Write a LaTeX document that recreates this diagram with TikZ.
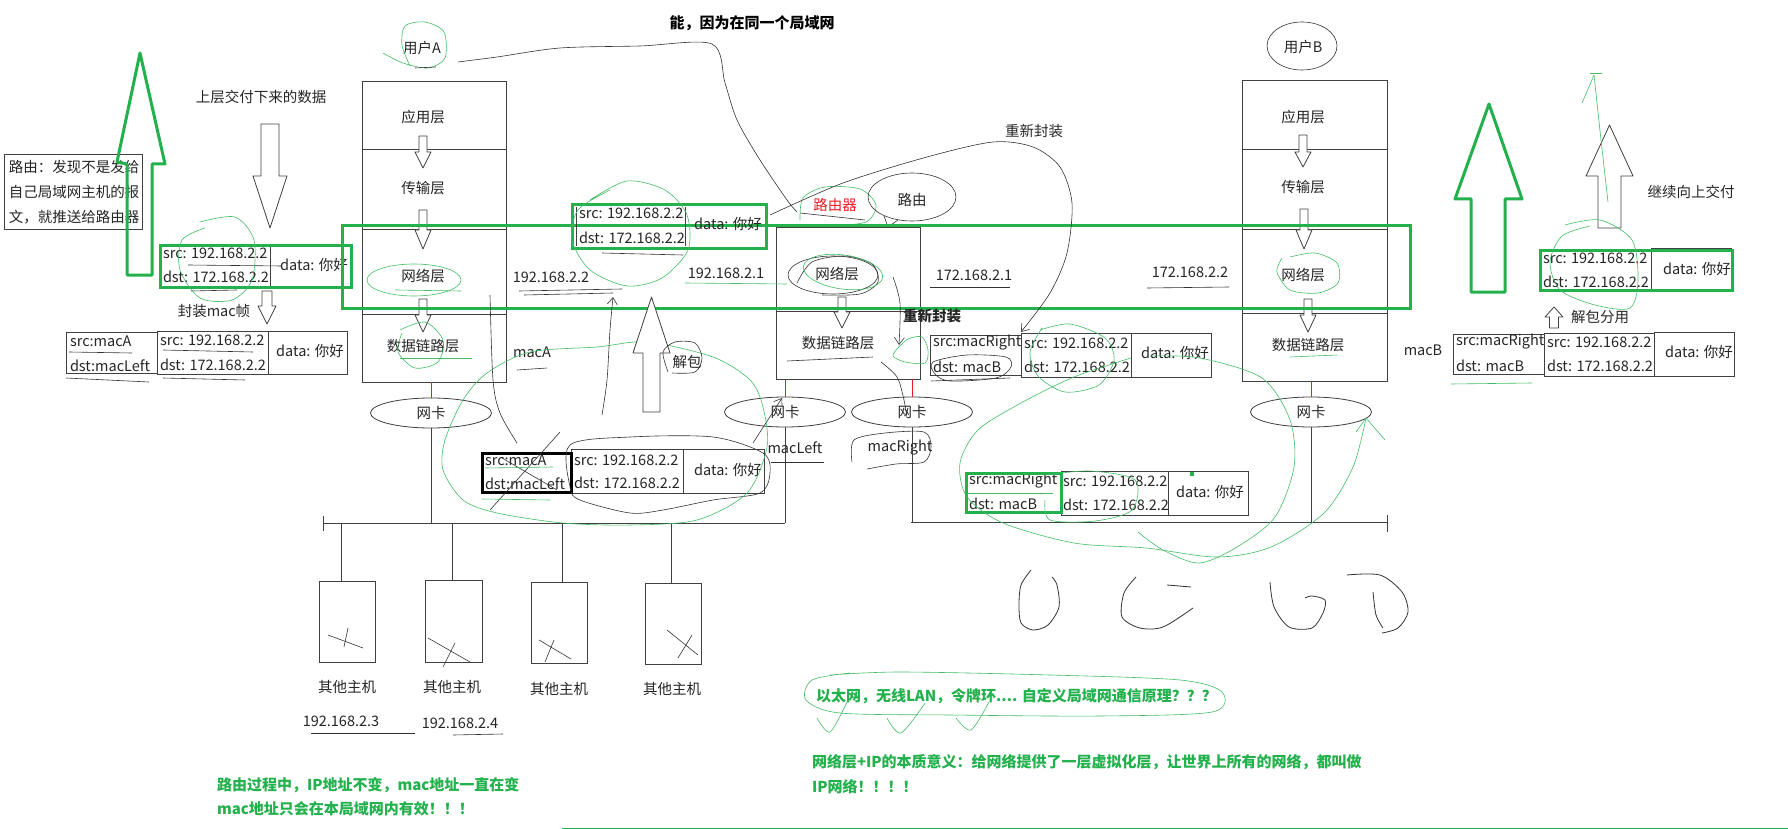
\documentclass[tikz,border=0pt]{standalone}
\usepackage{fontspec}
\setmainfont{Noto Sans CJK SC}
\usetikzlibrary{shapes.geometric,arrows.meta}
\definecolor{pgreen}{RGB}{34,177,76}
\definecolor{pred}{RGB}{237,28,36}
\newcommand{\harrow}[6]{\draw[hollow] ({#1-#5},#2) -- ({#1-#5},#3) -- ({#1-#6},#3) -- (#1,#4) -- ({#1+#6},#3) -- ({#1+#5},#3) -- ({#1+#5},#2) -- cycle;}
\begin{document}
\begin{tikzpicture}[x=1pt,y=-1pt,
 every node/.style={inner sep=0pt, outer sep=0pt, font=\fontsize{14.5}{17}\selectfont, text=black!85},
 cell/.style={draw=black!75, line width=0.8pt},
 thickcell/.style={draw=black, line width=3pt},
 gframe/.style={draw=pgreen, line width=3pt},
 hollow/.style={draw=black!75, line width=0.8pt, fill=white, line join=round},
 gs/.style={draw=pgreen!85, line width=0.6pt},
 bs/.style={draw=black!80, line width=0.6pt},
 nic/.style={draw=black!75, line width=0.8pt, ellipse, minimum width=121pt, minimum height=30pt},
 gtxt/.style={anchor=west, text=pgreen, font=\bfseries\fontsize{15}{18}\selectfont},
 barb/.style={-{Straight Barb[length=7pt,width=10pt]}},
]
\fill[white] (0,0) rectangle (1788,829);
\useasboundingbox (0,0) rectangle (1788,829);

% title
\node[font=\bfseries\fontsize{15}{18}\selectfont, text=black] (title) at (752,23) {能，因为在同一个局域网};

% routing note
\draw[cell] (4,154) rectangle (142,229);
\node[anchor=west] (note1) at (9,167) {路由：发现不是发给};
\node[anchor=west] (note2) at (9,192) {自己局域网主机的报};
\node[anchor=west] (note3) at (9,217) {文，就推送给路由器};
\draw[gframe, line join=round] (140,53) -- (165,164) -- (152,164) -- (152,275) -- (127,275) -- (127,164) -- (117,162) -- cycle;

% data from upper layer
\node (upper) at (261,97) {上层交付下来的数据};
\harrow{270}{124}{176}{228}{9}{17}

% packet 1
\draw[cell] (160,244) rectangle (351,288);
\draw[cell] (270,244) -- (270,288);
\node[anchor=west] (p1s) at (163,253) {src: 192.168.2.2};
\node[anchor=west] (p1d) at (163,277) {dst: 172.168.2.2};
\node (p1a) at (314,265) {data: 你好};
\draw[gframe] (160,245) rectangle (351,287);
\draw[bs] (188,265) -- (282,266);
\draw[bs] (191,291) -- (237,290);
\draw[gs] plot[smooth] coordinates {(200,222) (235,217) (254,240) (252,280) (232,300) (200,298) (180,270) (182,240) (205,228)};

% encapsulate mac frame
\harrow{267}{291}{306}{324}{5}{9}
\node (fz) at (214,311) {封装mac帧};
\draw[cell] (66,332) rectangle (157,373);
\draw[cell] (157,331) rectangle (268,374);
\draw[cell] (268,331) rectangle (347,374);
\node[anchor=west] (f1sm) at (70,341) {src:macA};
\node[anchor=west] (f1dm) at (70,366) {dst:macLeft};
\node[anchor=west] (f1s) at (160,340) {src: 192.168.2.2};
\node[anchor=west] (f1d) at (160,365) {dst: 172.168.2.2};
\node (f1a) at (310,351) {data: 你好};
\draw[bs] (69,352) -- (132,353);
\draw[bs] (66,378) -- (149,382);
\draw[bs] (163,350) -- (253,352);
\draw[bs] (163,378) -- (245,380);

% host A stack
\node (userA) at (422,48) {用户A};
\draw[gs] plot[smooth] coordinates {(383,53) (403,63) (428,68) (445,58) (444,32) (425,22) (405,26) (402,45) (410,66)};
\draw[bs] (415,68) -- (436,67);
\draw[cell] (362,81) rectangle (506,382);
\draw[cell] (362,149) -- (506,149);
\draw[cell] (362,229) -- (506,229);
\draw[cell] (362,314) -- (506,314);
\node (aApp) at (423,117) {应用层};
\node (aTra) at (423,188) {传输层};
\node (aNet) at (423,276) {网络层};
\node (aDl) at (423,346) {数据链路层};
\harrow{423}{136}{152}{168}{4}{8}
\harrow{423}{210}{230}{249}{4}{8}
\harrow{423}{299}{315}{332}{4}{8}
\draw[gs] (414,280) ellipse [x radius=47, y radius=16];
\draw[gs] (395,290) -- (461,291);
\draw[gs] plot[smooth] coordinates {(400,330) (425,322) (443,340) (438,362) (415,368) (398,352) (402,333)};
\draw[gs] (400,358) -- (472,358);

% router
\node[text=pred] (rtr) at (835,205) {路由器};
\draw[gs] plot[smooth] coordinates {(800,220) (803,198) (825,187) (860,189) (876,205) (866,222) (830,226)};
\draw[bs] (800,213) -- (865,220);
\node (route) at (912,200) {路由};
\draw[bs] (912,197) ellipse [x radius=44, y radius=24];
\draw[bs] (884,216) -- (888,227) -- (898,220);
\draw[cell] (776,227) rectangle (920,379);
\draw[cell] (776,311) -- (920,311);
\node (rNet) at (837,274) {网络层};
\node (rDl) at (838,343) {数据链路层};
\harrow{842}{297}{312}{328}{4}{8}
\draw[bs] (833,275) ellipse [x radius=45, y radius=19];
\draw[bs] plot[smooth] coordinates {(797,283) (812,262) (845,256) (872,264) (878,282) (860,294) (822,295)};
\draw[gs, rotate around={-8:(843,272)}] (843,272) ellipse [x radius=40, y radius=17];
\draw[bs] (787,361) -- (873,357);
\node (ip1) at (551,277) {192.168.2.2};
\draw[bs] (519,291) -- (622,289);
\draw[bs] (524,295) -- (613,293);
\node (ip2) at (726,273) {192.168.2.1};
\draw[gs] (685,283) -- (787,284);
\node (ip3) at (974,275) {172.168.2.1};
\draw[bs] (930,287) -- (1010,287);
\node (ip4) at (1190,272) {172.168.2.2};
\draw[bs] (1147,288) -- (1229,287);
\node (macA) at (532,352) {macA};
\draw[bs] (517,370) -- (547,368);

% host B stack
\node (userB) at (1303,47) {用户B};
\draw[bs] (1302,46) ellipse [x radius=35, y radius=24];
\draw[cell] (1242,80) rectangle (1387,381);
\draw[cell] (1242,149) -- (1387,149);
\draw[cell] (1242,229) -- (1387,229);
\draw[cell] (1242,313) -- (1387,313);
\node (bApp) at (1303,117) {应用层};
\node (bTra) at (1303,187) {传输层};
\node (bNet) at (1303,275) {网络层};
\node (bDl) at (1308,345) {数据链路层};
\harrow{1303}{135}{152}{167}{4}{8}
\harrow{1304}{209}{230}{249}{4}{8}
\harrow{1308}{299}{315}{332}{4}{8}
\draw[gs] plot[smooth] coordinates {(1290,257) (1315,253) (1337,263) (1338,283) (1318,293) (1290,290) (1277,272) (1282,258)};
\draw[gs] (1290,357) -- (1337,355);
\node (macB) at (1423,350) {macB};

% long green rectangle (network layer)
\draw[gframe] (342,226) rectangle (1410,308);

% packet 2
\draw[cell] (576,207) -- (576,246);
\draw[cell] (685,207) -- (685,246);
\node[anchor=west] (p2s) at (579,213) {src: 192.168.2.2};
\node[anchor=west] (p2d) at (579,238) {dst: 172.168.2.2};
\node (p2a) at (728,224) {data: 你好};
\draw[gframe] (572,205) rectangle (766,248);
\draw[bs] (602,253) -- (683,255);
\draw[gs] plot[smooth] coordinates {(590,200) (627,181) (665,190) (687,215) (688,250) (662,278) (627,286) (590,270) (572,240) (578,210) (610,190)};

% black curve from user A to router
\draw[bs] plot[smooth, tension=0.5] coordinates {(458,62) (497,57) (560,48) (640,46) (712,44) (725,83) (737,120) (760,160) (787,200) (797,212)};
% router re-encapsulation curve
\node (renew) at (1034,131) {重新封装};
\draw[bs, barb] plot[smooth] coordinates {(770,215) (843,183) (927,157) (993,142) (1033,147) (1060,167) (1072,203) (1067,253) (1050,293) (1021,332)};
\node[font=\bfseries\fontsize{14.5}{17}\selectfont, text=black!85] (renew2) at (932,316) {重新封装};
\draw[bs, barb] plot[smooth] coordinates {(893,277) (900,303) (899,345)};
\draw[gs] plot[smooth] coordinates {(897,349) (908,339) (922,337) (928,350) (925,363) (905,362) (893,356) (898,348)};
\draw[bs] plot[smooth] coordinates {(881,362) (897,377) (904,400) (907,418)};

% router frame
\draw[cell] (930,335) rectangle (1021,375);
\draw[cell] (1021,333) rectangle (1131,377);
\draw[cell] (1131,333) rectangle (1211,377);
\node[anchor=west] (rfsm) at (933,343) {src:macRight};
\node[anchor=west] (rfdm) at (933,367) {dst: macB};
\node[anchor=west] (rfs) at (1024,343) {src: 192.168.2.2};
\node[anchor=west] (rfd) at (1024,367) {dst: 172.168.2.2};
\node (rfa) at (1175,353) {data: 你好};
\draw[bs] plot[smooth cycle] coordinates {(933,362) (967,355) (1006,357) (1011,367) (996,378) (950,381) (935,374)};
\draw[bs] (931,381) -- (1010,378);
\draw[gs] plot[smooth] coordinates {(1040,330) (1070,324) (1105,338) (1114,360) (1099,385) (1065,392) (1038,376) (1030,352) (1042,328)};

% NICs
\node[nic] (nicA) at (431,413) {网卡};
\node[nic] (nicRL) at (785,412) {网卡};
\node[nic] (nicRR) at (912,412) {网卡};
\node[nic] (nicB) at (1311,412) {网卡};
\draw[pred, line width=0.6pt] (nicA.north) -- ++(0,-16);
\draw[pred, line width=0.6pt] (nicRL.north) -- ++(0,-18);
\draw[pred, line width=0.6pt] (nicRR.north) -- ++(0,-18);
\draw[pred, line width=0.6pt] (nicB.north) -- ++(0,-16);
\node (macL) at (795,448) {macLeft};
\draw[bs] (771,462) -- (824,462);
\node (macR) at (900,448) {macRight};
\draw[bs] plot[smooth] coordinates {(852,462) (854,440) (885,433) (924,432) (931,447) (924,462) (896,464) (867,469)};

% bus A
\coordinate (busAL) at (323,523);
\coordinate (busAR) at (785,523);
\draw[cell] (busAL) -- (busAR);
\draw[cell] (323,516) -- (323,531);
\draw[cell] (nicA.south) -- (nicA.south |- busAL);
\draw[cell] (nicRL.south) -- (busAR);
\draw[cell] (341,523) -- (341,581);
\draw[cell] (452,523) -- (452,580);
\draw[cell] (562,523) -- (562,582);
\draw[cell] (671,523) -- (671,583);
\draw[cell] (319,581) rectangle (375,662);
\draw[cell] (425,580) rectangle (482,662);
\draw[cell] (531,582) rectangle (587,663);
\draw[cell] (645,583) rectangle (701,664);
\draw[bs] (328,635) -- (363,648); \draw[bs] (348,628) -- (344,647);
\draw[bs] (428,638) -- (470,662); \draw[bs] (455,643) -- (443,667);
\draw[bs] (539,640) -- (571,659); \draw[bs] (554,640) -- (545,662);
\draw[bs] (667,630) -- (698,655); \draw[bs] (692,635) -- (678,658);
\node (o1) at (347,687) {其他主机};
\node (o2) at (452,687) {其他主机};
\node (o3) at (559,689) {其他主机};
\node (o4) at (672,689) {其他主机};
\node (o1ip) at (341,721) {192.168.2.3};
\node (o2ip) at (460,723) {192.168.2.4};
\draw[bs] (311,733) -- (415,733);
\draw[bs] (453,735) -- (503,734);

% frame on bus A
\draw[cell] (571,449) rectangle (683,493);
\draw[cell] (683,449) rectangle (764,493);
\draw[thickcell] (482,453) rectangle (571,492);
\node[anchor=west] (bafsm) at (485,460) {src:macA};
\node[anchor=west] (bafdm) at (485,484) {dst:macLeft};
\node[anchor=west] (bafs) at (574,460) {src: 192.168.2.2};
\node[anchor=west] (bafd) at (574,483) {dst: 172.168.2.2};
\node (bafa) at (728,470) {data: 你好};
\draw[bs] (560,432) -- (490,510);
\draw[bs] (502,458) -- (557,490);
\draw[gs] (485,468) -- (553,467);
\draw[gs] (482,499) -- (550,500);
\draw[bs] plot[smooth cycle] coordinates {(570,445) (630,437) (713,437) (763,453) (770,473) (760,493) (713,500) (663,510) (630,513) (580,500) (570,487)};
\draw[gs] plot[smooth cycle] coordinates {(647,342) (597,347) (530,352) (487,373) (463,400) (445,440) (443,470) (463,500) (497,513) (563,523) (630,525) (697,520) (747,493) (767,447) (763,407) (750,380) (713,357)};
\draw[bs, barb] (753,443) -- (782,398);
\draw[bs] plot[smooth] coordinates {(490,295) (493,380) (500,413) (517,443)};
\draw[bs, barb] plot[smooth] coordinates {(602,415) (607,380) (610,330) (613,297)};
\harrow{651.5}{412}{353}{297}{8.5}{18.5}
\node (unpack) at (687,362) {解包};
\draw[bs] plot[smooth] coordinates {(668,372) (663,352) (675,342) (695,343) (702,358) (695,372) (672,373)};

% bus B
\coordinate (busBL) at (911,522);
\coordinate (busBR) at (1387,522);
\draw[cell] (busBL) -- (busBR);
\draw[cell] (1387,515) -- (1387,532);
\draw[cell] (nicRR.south) -- (nicRR.south |- busBL);
\draw[cell] (nicB.south) -- (nicB.south |- busBR);

% frame on bus B
\draw[cell] (966,473) rectangle (1061,512);
\draw[cell] (1061,471) rectangle (1168,515);
\draw[cell] (1168,471) rectangle (1248,515);
\node[anchor=west] (bbfsm) at (969,481) {src:macRight};
\node[anchor=west] (bbfdm) at (969,504) {dst: macB};
\node[anchor=west] (bbfs) at (1063,481) {src: 192.168.2.2};
\node[anchor=west] (bbfd) at (1063,505) {dst: 172.168.2.2};
\node (bbfa) at (1210,492) {data: 你好};
\draw[gframe] (966,473) rectangle (1061,512);
\draw[gs] (967,493) -- (1053,493);
\fill[pgreen] (1190,472) rectangle (1194,476);
\draw[gs] plot[smooth] coordinates {(1046,475) (1090,471) (1135,480) (1132,510) (1095,521) (1050,520) (1045,500)};
\draw[gs] plot[smooth] coordinates {(1131,358) (1074,377) (1021,403) (978,430) (960,463) (967,497) (1003,523) (1074,543) (1146,548) (1217,557) (1271,547) (1324,513) (1353,467) (1366,418)};
\draw[gs] (1366,418) -- (1385,440);
\draw[gs] (1366,418) -- (1356,432);
\draw[gs] plot[smooth] coordinates {(1150,356) (1200,358) (1262,378) (1290,420) (1294,467) (1275,517) (1237,547) (1199,563) (1163,550) (1138,532)};

% right side
\draw[gframe, line join=round] (1489,104) -- (1522,199) -- (1505,199) -- (1505,292) -- (1471,292) -- (1471,199) -- (1455,199) -- cycle;
\harrow{1609.5}{228}{176}{125}{11.5}{23.5}
\node (cont) at (1691,192) {继续向上交付};
\draw[gs] plot[smooth] coordinates {(1608,202) (1601,140) (1594,75)};
\draw[gs] (1594,75) -- (1582,103);
\draw[gs] (1590,73) -- (1602,73);
\draw[cell] (1651,248) -- (1732,248);
\draw[cell] (1651,250) -- (1651,290);
\node[anchor=west] (rps) at (1543,258) {src: 192.168.2.2};
\node[anchor=west] (rpd) at (1543,282) {dst: 172.168.2.2};
\node (rpa) at (1697,269) {data: 你好};
\draw[gframe] (1540,250) rectangle (1732,290);
\draw[gs] plot[smooth] coordinates {(1565,225) (1600,220) (1632,240) (1638,280) (1630,308) (1595,305) (1560,290) (1550,262) (1562,236) (1590,226)};
\harrow{1554}{328}{317}{307}{4.5}{9}
\node (unpack2) at (1600,317) {解包分用};
\draw[cell] (1453,334) rectangle (1544,374);
\draw[cell] (1544,333) rectangle (1654,376);
\draw[cell] (1654,332) rectangle (1734,376);
\node[anchor=west] (rfsm2) at (1456,342) {src:macRight};
\node[anchor=west] (rfdm2) at (1456,366) {dst: macB};
\node[anchor=west] (rfs2) at (1547,342) {src: 192.168.2.2};
\node[anchor=west] (rfd2) at (1547,366) {dst: 172.168.2.2};
\node (rfa2) at (1699,352) {data: 你好};
\draw[gs] (1451,384) -- (1532,383);

% scribbles at bottom
\draw[bs, line width=0.8pt] plot[smooth] coordinates {(1031,570) (1021,585) (1019,605) (1021,623) (1033,630) (1048,625) (1059,607) (1057,585) (1052,577)};
\draw[bs, line width=0.8pt] plot[smooth] coordinates {(1136,577) (1124,593) (1122,617) (1140,628) (1163,627) (1193,608)};
\draw[bs, line width=0.8pt] (1167,585) -- (1191,587);
\draw[bs, line width=0.8pt] plot[smooth] coordinates {(1270,582) (1274,607) (1289,627) (1312,628) (1323,613) (1325,600) (1312,596) (1305,598)};
\draw[bs, line width=0.8pt] plot[smooth] coordinates {(1347,575) (1380,575) (1402,592) (1408,612) (1398,628) (1382,633)};
\draw[bs, line width=0.8pt] plot[smooth] coordinates {(1373,592) (1376,615) (1383,628)};

% green notes
\node[gtxt] (n1) at (217,785) {路由过程中，IP地址不变，mac地址一直在变};
\node[gtxt] (n2) at (217,809) {mac地址只会在本局域网内有效！！！};
\node[gtxt] (n3) at (816,696) {以太网，无线LAN，令牌环.... 自定义局域网通信原理？？？};
\draw[gs] plot[smooth] coordinates {(830,675) (900,672) (1050,675) (1180,680) (1222,692) (1212,712) (1100,716) (950,715) (840,713) (806,700) (812,680) (850,673)};
\draw[gs] plot[smooth] coordinates {(817,718) (830,732) (847,702)};
\draw[gs] plot[smooth] coordinates {(887,718) (901,733) (925,703)};
\draw[gs] plot[smooth] coordinates {(956,718) (971,730) (989,702)};
\node[gtxt] (n4) at (812,762) {网络层+IP的本质意义：给网络提供了一层虚拟化层，让世界上所有的网络，都叫做};
\node[gtxt] (n5) at (812,787) {IP网络！！！！};
\draw[pgreen, line width=1pt] (562,828) -- (1788,828);
\end{tikzpicture}
\end{document}
